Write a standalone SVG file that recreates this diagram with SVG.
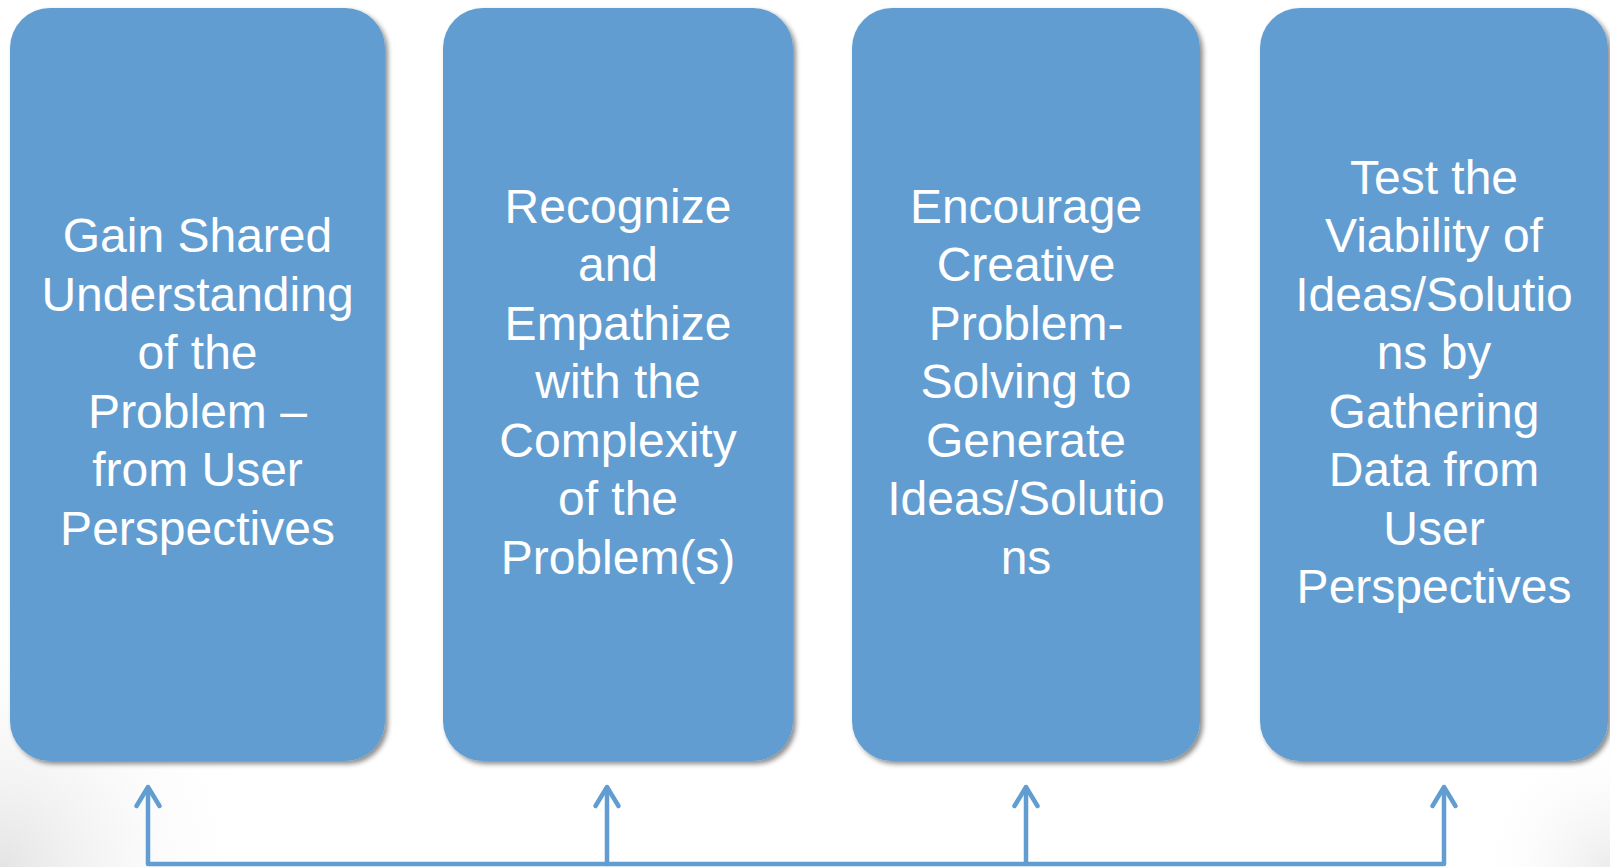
<svg xmlns="http://www.w3.org/2000/svg" width="1610" height="867" viewBox="0 0 1610 867">
<defs>
<radialGradient id="bgl" gradientUnits="userSpaceOnUse" cx="0" cy="867" r="260">
<stop offset="0" stop-color="#e4e4e4" stop-opacity="1"/>
<stop offset="1" stop-color="#ffffff" stop-opacity="0"/>
</radialGradient>
<radialGradient id="bgr" gradientUnits="userSpaceOnUse" cx="1610" cy="867" r="140">
<stop offset="0" stop-color="#ececec" stop-opacity="1"/>
<stop offset="1" stop-color="#ffffff" stop-opacity="0"/>
</radialGradient>
<filter id="sh" x="-10%" y="-10%" width="120%" height="120%">
<feDropShadow dx="3" dy="3" stdDeviation="2.5" flood-color="#000" flood-opacity="0.45"/>
</filter>
<style>
.box{fill:#629DD1;filter:url(#sh);}
.lbl{font-family:"Liberation Sans",Arial,sans-serif;font-size:48px;fill:#ffffff;text-anchor:middle;}
.con{fill:none;stroke:#629DD1;stroke-width:4.5;stroke-linecap:round;stroke-linejoin:round;}
</style>
</defs>
<rect width="1610" height="867" fill="#ffffff"/>
<rect width="1610" height="867" fill="url(#bgl)"/>
<rect width="1610" height="867" fill="url(#bgr)"/>
<g id="node1">
<rect class="box" x="10" y="8" width="375" height="753" rx="40" ry="40"/>
<text class="lbl" x="197.5"><tspan x="197.5" y="252">Gain Shared</tspan><tspan x="197.5" y="310.5">Understanding</tspan><tspan x="197.5" y="369">of the</tspan><tspan x="197.5" y="427.5">Problem –</tspan><tspan x="197.5" y="486">from User</tspan><tspan x="197.5" y="544.5">Perspectives</tspan></text>
</g>
<g id="node2">
<rect class="box" x="443" y="8" width="350" height="753" rx="40" ry="40"/>
<text class="lbl" x="618"><tspan x="618" y="222.5">Recognize</tspan><tspan x="618" y="281">and</tspan><tspan x="618" y="339.5">Empathize</tspan><tspan x="618" y="398">with the</tspan><tspan x="618" y="456.5">Complexity</tspan><tspan x="618" y="515">of the</tspan><tspan x="618" y="573.5">Problem(s)</tspan></text>
</g>
<g id="node3">
<rect class="box" x="852" y="8" width="348" height="753" rx="40" ry="40"/>
<text class="lbl" x="1026"><tspan x="1026" y="222.5">Encourage</tspan><tspan x="1026" y="281">Creative</tspan><tspan x="1026" y="339.5">Problem-</tspan><tspan x="1026" y="398">Solving to</tspan><tspan x="1026" y="456.5">Generate</tspan><tspan x="1026" y="515">Ideas/Solutio</tspan><tspan x="1026" y="573.5">ns</tspan></text>
</g>
<g id="node4">
<rect class="box" x="1260" y="8" width="348" height="753" rx="40" ry="40"/>
<text class="lbl" x="1434"><tspan x="1434" y="193.5">Test the</tspan><tspan x="1434" y="252">Viability of</tspan><tspan x="1434" y="310.5">Ideas/Solutio</tspan><tspan x="1434" y="369">ns by</tspan><tspan x="1434" y="427.5">Gathering</tspan><tspan x="1434" y="486">Data from</tspan><tspan x="1434" y="544.5">User</tspan><tspan x="1434" y="603">Perspectives</tspan></text>
</g>
<g id="connectors">
<path class="con" d="M148 788 V864 H1444 V788"/>
<path class="con" d="M607 788 V864"/>
<path class="con" d="M1026 788 V864"/>
<path class="con" d="M136.5 806 L148 787 L159.5 806"/>
<path class="con" d="M595.5 806 L607 787 L618.5 806"/>
<path class="con" d="M1014.5 806 L1026 787 L1037.5 806"/>
<path class="con" d="M1432.5 806 L1444 787 L1455.5 806"/>
</g>
</svg>
